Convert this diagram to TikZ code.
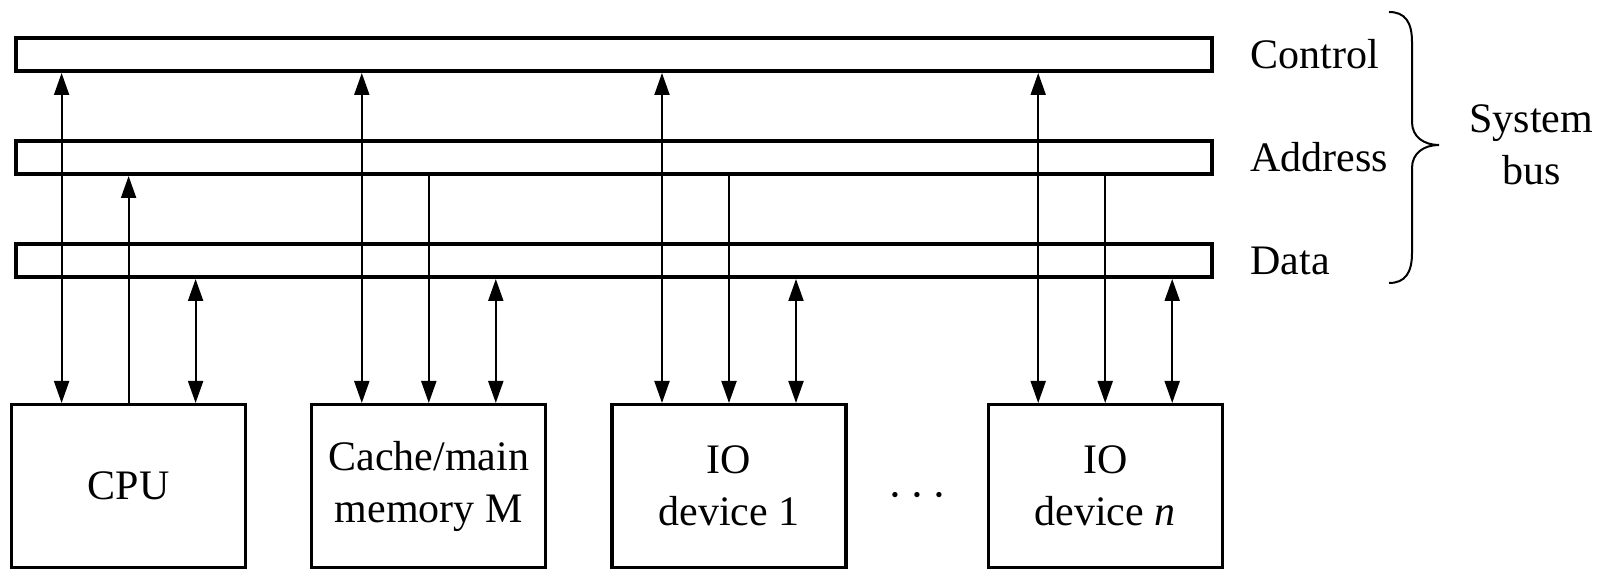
\documentclass[tikz,border=0pt]{standalone}
\usepackage{fontspec}
\setmainfont{Liberation Serif}
\usetikzlibrary{arrows.meta,positioning,calc}

\begin{document}
\begin{tikzpicture}[
    x=0.5pt, y=-0.5pt,
    font=\fontsize{21}{26}\selectfont,
    bus/.style={draw, line width=2pt, minimum width=598pt, minimum height=16.5pt, inner sep=0pt},
    unit/.style={draw, line width=1.6pt, align=center, minimum width=117pt, minimum height=81.5pt, inner sep=0pt},
    lbl/.style={inner sep=0pt, align=center},
    arr/.style={-{Triangle[length=11pt, width=7.5pt]}, line width=1pt},
    dbl/.style={{Triangle[length=11pt, width=7.5pt]}-{Triangle[length=11pt, width=7.5pt]}, line width=1pt}
  ]
  \useasboundingbox (0,0) rectangle (1612,571);
  % the three bus lines
  \node[bus, anchor=north west] (ctrl) at (14,36) {};
  \node[bus, below=33pt of ctrl] (addr) {};
  \node[bus, below=33pt of addr] (data) {};
  \node[lbl, right=18pt of ctrl] (lctrl) {Control};
  \node[lbl, right=18pt of addr] (laddr) {Address};
  \node[lbl, right=18pt of data] (ldata) {Data};
  % modules
  \node[unit, anchor=north west] (cpu) at (10,403) {CPU};
  \node[unit, right=31.5pt of cpu] (mem) {Cache/main\\memory M};
  \node[unit, right=31.5pt of mem] (ioa) {IO\\device 1};
  \node[unit, right=69.5pt of ioa] (ion) {IO\\device \textit{n}};
  \node[font=\fontsize{26}{30}\selectfont, yshift=-5pt] (dots) at ($(ioa.east)!0.5!(ion.west)$) {$\cdots$};
  % taps on each module
  \path ([xshift=-33.5pt]cpu.north) coordinate (cpuC) (cpu.north) coordinate (cpuA) ([xshift=33.5pt]cpu.north) coordinate (cpuD);
  \path ([xshift=-33.5pt]mem.north) coordinate (memC) (mem.north) coordinate (memA) ([xshift=33.5pt]mem.north) coordinate (memD);
  \path ([xshift=-33.5pt]ioa.north) coordinate (ioaC) (ioa.north) coordinate (ioaA) ([xshift=33.5pt]ioa.north) coordinate (ioaD);
  \path ([xshift=-33.5pt]ion.north) coordinate (ionC) (ion.north) coordinate (ionA) ([xshift=33.5pt]ion.north) coordinate (ionD);
  \draw[dbl] (ctrl.south -| cpuC) -- (cpuC);
  \draw[arr] (cpuA) -- (addr.south -| cpuA);
  \draw[dbl] (data.south -| cpuD) -- (cpuD);
  \draw[dbl] (ctrl.south -| memC) -- (memC);
  \draw[arr] (addr.south -| memA) -- (memA);
  \draw[dbl] (data.south -| memD) -- (memD);
  \draw[dbl] (ctrl.south -| ioaC) -- (ioaC);
  \draw[arr] (addr.south -| ioaA) -- (ioaA);
  \draw[dbl] (data.south -| ioaD) -- (ioaD);
  \draw[dbl] (ctrl.south -| ionC) -- (ionC);
  \draw[arr] (addr.south -| ionA) -- (ionA);
  \draw[dbl] (data.south -| ionD) -- (ionD);
  % brace
  \draw[line width=1pt] (1389,12) .. controls (1405,12) and (1412,22) .. (1412,42) -- (1412,122)
    .. controls (1412,137) and (1424,145) .. (1439,145)
    .. controls (1424,145) and (1412,153) .. (1412,168) -- (1412,253)
    .. controls (1412,273) and (1405,283) .. (1389,283);
  \coordinate (brtip) at (1439,145);
  \node[lbl, right=15pt of brtip] (sys) {System\\bus};
\end{tikzpicture}
\end{document}
